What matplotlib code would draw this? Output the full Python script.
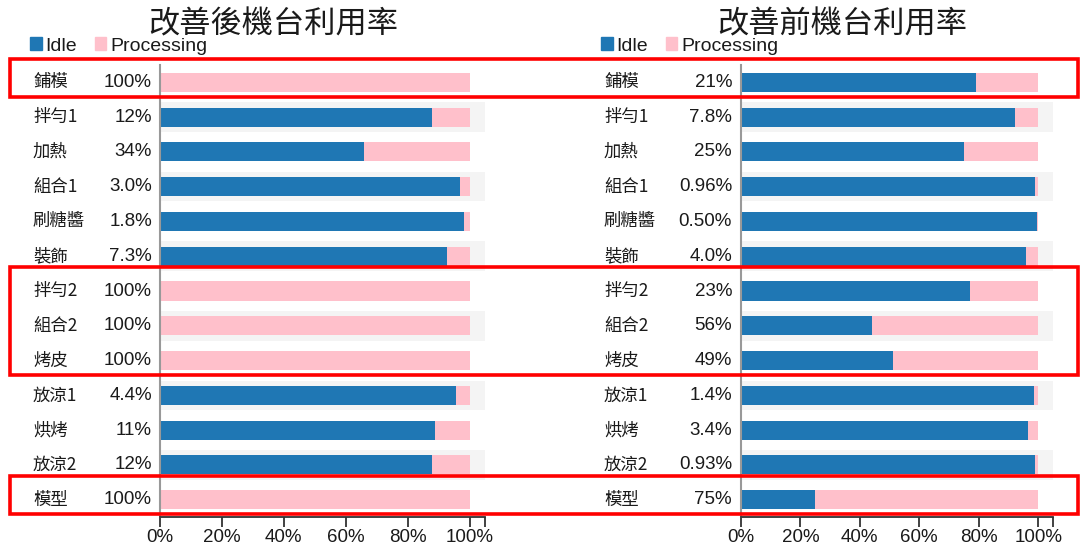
import matplotlib
matplotlib.use("Agg")
import matplotlib.pyplot as plt
from matplotlib.patches import Rectangle, Patch
from matplotlib.transforms import blended_transform_factory

machines = ['鋪模', '拌勻1', '加熱', '組合1', '刷糖醬', '裝飾', '拌勻2',
            '組合2', '烤皮', '放涼1', '烘烤', '放涼2', '模型']

# utilization (processing share, %) after / before improvement
after_proc = [100, 12, 34, 3.0, 1.8, 7.3, 100, 100, 100, 4.4, 11, 12, 100]
after_labels = ['100%', '12%', '34%', '3.0%', '1.8%', '7.3%', '100%', '100%',
                '100%', '4.4%', '11%', '12%', '100%']
before_proc = [21, 7.8, 25, 0.96, 0.50, 4.0, 23, 56, 49, 1.4, 3.4, 0.93, 75]
before_labels = ['21%', '7.8%', '25%', '0.96%', '0.50%', '4.0%', '23%', '56%',
                 '49%', '1.4%', '3.4%', '0.93%', '75%']

titles = ['改善後機台利用率', '改善前機台利用率']
highlight_rows = [(0, 0), (6, 8), (12, 12)]

IDLE = '#1f77b4'
PROC = '#ffc0cb'
CJK = ['Noto Sans CJK TC', 'DejaVu Sans']
LAT = ['Liberation Sans', 'DejaVu Sans']
TXT = '#1a1a1a'

W, H = 1080, 549
fig = plt.figure(figsize=(W / 100, H / 100), dpi=100)

panels = [
    dict(left=160, width=325, cat_x=33, pct_x=152, title_x=273,
         proc=after_proc, labels=after_labels, title=titles[0], leg_x=30),
    dict(left=741, width=312, cat_x=604, pct_x=732, title_x=842,
         proc=before_proc, labels=before_labels, title=titles[1], leg_x=601),
]

top_px, bot_px = 65, 517
axes = []
for p in panels:
    ax = fig.add_axes([p['left'] / W, 1 - bot_px / H, p['width'] / W,
                       (bot_px - top_px) / H])
    axes.append(ax)
    n = len(machines)
    ys = list(range(n))
    idle = [100 - v for v in p['proc']]

    for i in ys:
        if i % 2 == 1:
            ax.barh(i, 105, height=0.85, color='#f4f4f4', zorder=0)
    ax.barh(ys, idle, height=0.55, color=IDLE, zorder=2)
    ax.barh(ys, p['proc'], left=idle, height=0.55, color=PROC, zorder=2)

    ax.set_xlim(0, 105)
    ax.set_ylim(n - 0.5, -0.5)
    ax.set_yticks([])
    ax.set_xticks([0, 20, 40, 60, 80, 100, 105])
    ax.set_xticklabels(['0%', '20%', '40%', '60%', '80%', '100%', ''],
                       family=LAT, fontsize=13.5, color=TXT)
    ax.tick_params(axis='x', length=7, width=1.3, color='#333333', pad=2)
    for s in ['top', 'right']:
        ax.spines[s].set_visible(False)
    ax.spines['left'].set_color('#999999')
    ax.spines['left'].set_linewidth(1.5)
    ax.spines['bottom'].set_color('#333333')
    ax.spines['bottom'].set_linewidth(1.3)

    tr = blended_transform_factory(fig.transFigure, ax.transData)
    for i, (m, lab) in enumerate(zip(machines, p['labels'])):
        ax.text(p['cat_x'] / W, i, m, transform=tr, ha='left', va='center',
                family=CJK, fontsize=12.5, color=TXT)
        ax.text(p['pct_x'] / W, i, lab, transform=tr, ha='right', va='center',
                family=LAT, fontsize=13.5, color=TXT)

    fig.text(p['title_x'] / W, 1 - 24 / H, p['title'], ha='center',
             va='center', family=CJK, fontsize=22.5, color=TXT)

    handles = [Patch(color=IDLE, label='Idle'), Patch(color=PROC, label='Processing')]
    leg = fig.legend(handles=handles, loc='center left',
                     bbox_to_anchor=(p['leg_x'] / W, 1 - 46 / H), ncol=2,
                     frameon=False, handlelength=0.6, handleheight=0.6,
                     handletextpad=0.2, columnspacing=0.9, borderaxespad=0,
                     borderpad=0, prop={'family': LAT, 'size': 14})
    for t in leg.get_texts():
        t.set_color(TXT)

# red highlight boxes across both panels
trh = blended_transform_factory(fig.transFigure, axes[0].transData)
for r0, r1 in highlight_rows:
    y0 = r0 - 0.68
    y1 = r1 + 0.42
    rect = Rectangle((10 / W, y0), 1068 / W, y1 - y0, transform=trh,
                     fill=False, edgecolor='#ff0000', linewidth=2.6,
                     clip_on=False, zorder=10)
    fig.add_artist(rect)

fig.savefig('out.png', dpi=100)
